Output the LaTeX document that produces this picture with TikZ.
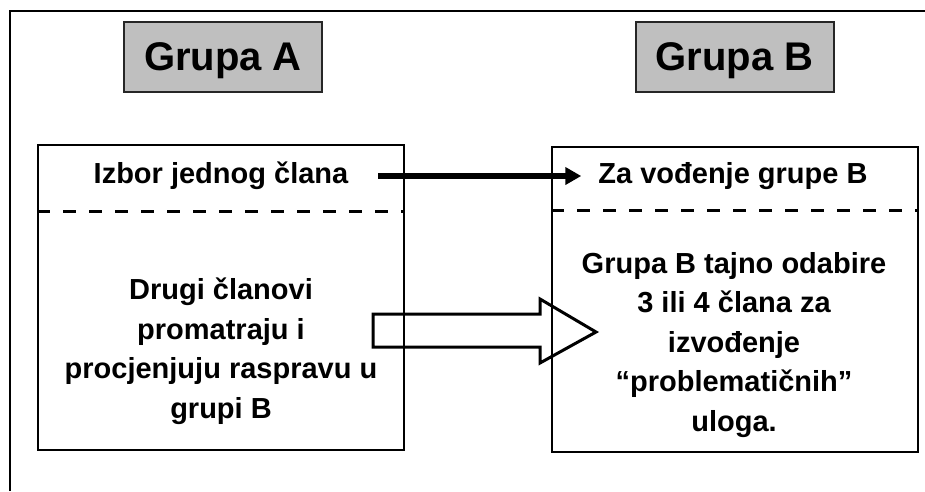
\documentclass[tikz,border=0pt]{standalone}
\usepackage{fontspec}
\setmainfont{Liberation Sans}
\usetikzlibrary{arrows.meta}

\tikzset{
  grupa/.style={draw=black!85, line width=2pt, fill=black!25, minimum width=198pt,
    minimum height=70pt, inner sep=0pt, text depth=0pt,
    font=\fontsize{40}{48}\selectfont\bfseries},
  okvir/.style={draw, line width=2pt, minimum width=366pt, minimum height=305pt,
    anchor=north west, inner sep=0pt},
  tekst/.style={align=center, inner sep=0pt, font=\fontsize{29}{39.5}\selectfont\bfseries},
  crtkano/.style={line width=3pt, dash pattern=on 13pt off 13pt},
  strelica/.style={line width=6pt, -{Triangle[length=16pt,width=17pt]}},
  blok/.style={line width=3pt, line join=miter},
}

\begin{document}
\begin{tikzpicture}[x=1pt,y=-1pt]
  \useasboundingbox (0,0) rectangle (925,491);
  % outer frame
  \draw[line width=2pt] (9.5,491) -- (9.5,10.5) -- (925,10.5);

  \node[grupa] (grpA) at (223,57) {Grupa A};
  \node[grupa] (grpB) at (734.5,57) {Grupa B};

  \node[okvir] (okvirA) at (37,144) {};
  \node[okvir] (okvirB) at (551,146) {};
  \draw[crtkano] (okvirA.west |- 0,211) -- (okvirA.east |- 0,211);
  \draw[crtkano] (okvirB.west |- 0,210) -- (okvirB.east |- 0,210);

  \node[tekst, anchor=base] (izbor) at (221,183) {Izbor jednog člana};
  \node[tekst, anchor=base] (vodjenje) at (733,183) {Za vođenje grupe B};
  \draw[strelica] ([shift={(30,-7)}]izbor.base east)
    -- ([shift={(-17,-7)}]vodjenje.base west);

  \node[tekst, anchor=north] (drugi) at (221,278)
    {Drugi članovi\\promatraju i\\procjenjuju raspravu u\\grupi B};
  \node[tekst, anchor=north] (tajno) at (734,252)
    {Grupa B tajno odabire\\3 ili 4 člana za\\izvođenje\\“problematičnih”\\uloga.};

  % block arrow
  \draw[blok] (373,314) -- (540,314) -- (540,299) -- (596,332)
    -- (540,363) -- (540,347) -- (373,347) -- cycle;
\end{tikzpicture}
\end{document}
